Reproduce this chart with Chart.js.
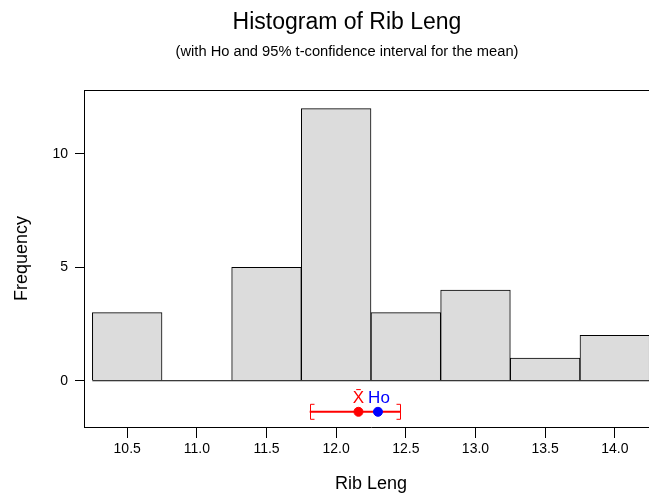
<!DOCTYPE html>
<html>
<head>
<meta charset="utf-8">
<script src="https://cdn.jsdelivr.net/npm/chart.js@4.4.0/dist/chart.umd.min.js"></script>
<style>
html, body { margin: 0; padding: 0; background: #fff; overflow: hidden; }
</style>
</head>
<body>
<canvas id="histChart" width="670" height="495"></canvas>
<script>
// histogram bins (midpoints) and counts
const binMids = [10.5, 11.0, 11.5, 12.0, 12.5, 13.0, 13.5, 14.0];
const binCounts = [3, 0, 5, 12, 3, 4, 1, 2];
const binWidth = 0.5;

const xTicks = [10.5, 11.0, 11.5, 12.0, 12.5, 13.0, 13.5, 14.0];
const yTicks = [0, 5, 10];

// sample mean, Ho and the 95% t-interval
const meanValue = 12.16;
const hoValue = 12.3;
const ciLow = 11.81;
const ciHigh = 12.46;
const intervalRow = -1.37;

const titleText = 'Histogram of Rib Leng';
const subtitleText = '(with Ho and 95% t-confidence interval for the mean)';

const fontFamily = '"Liberation Sans", Arial, sans-serif';
const barFill = '#dcdcdc';
const ciRed = '#ff0000';
const hoBlue = '#0000ff';

const barData = binMids.map((m, i) => ({ x: m, y: binCounts[i] }));
const firstEdge = binMids[0] - binWidth / 2;
const lastEdge = binMids[binMids.length - 1] + binWidth / 2;

// frame top, interval brackets, X-bar / Ho labels and titles
const extras = {
    id: 'extras',
    afterDraw(chart) {
        const ctx = chart.ctx;
        const area = chart.chartArea;
        const xs = chart.scales.x;
        const ys = chart.scales.y;
        ctx.save();
        ctx.strokeStyle = '#000';
        ctx.lineWidth = 1;
        ctx.beginPath();
        ctx.moveTo(area.left, Math.round(area.top) + 0.5);
        ctx.lineTo(area.right, Math.round(area.top) + 0.5);
        ctx.stroke();

        const yc = ys.getPixelForValue(intervalRow);
        ctx.strokeStyle = ciRed;
        [[ciLow, 1], [ciHigh, -1]].forEach(([v, dir]) => {
            const px = Math.round(xs.getPixelForValue(v)) + 0.5;
            ctx.beginPath();
            ctx.moveTo(px + 4 * dir, yc - 7.5);
            ctx.lineTo(px, yc - 7.5);
            ctx.lineTo(px, yc + 7.5);
            ctx.lineTo(px + 4 * dir, yc + 7.5);
            ctx.stroke();
        });

        ctx.font = '17px ' + fontFamily;
        ctx.textAlign = 'center';
        ctx.textBaseline = 'alphabetic';
        ctx.fillStyle = ciRed;
        ctx.fillText('X\u0304', xs.getPixelForValue(meanValue), yc - 9);
        ctx.fillStyle = hoBlue;
        ctx.fillText('Ho', xs.getPixelForValue(hoValue) + 1, yc - 9);

        ctx.fillStyle = '#000';
        ctx.font = '23px ' + fontFamily;
        ctx.fillText(titleText, 347, 29);
        ctx.font = '14.7px ' + fontFamily;
        ctx.fillText(subtitleText, 347, 56);
        ctx.restore();
    }
};

const config = {
    type: 'bar',
    data: {
        datasets: [
            {
                type: 'line',
                data: [{ x: firstEdge, y: 0 }, { x: lastEdge, y: 0 }],
                borderColor: '#000',
                borderWidth: 1,
                pointRadius: 0,
                order: 0
            },
            {
                type: 'line',
                data: [{ x: ciLow, y: intervalRow }, { x: ciHigh, y: intervalRow }],
                borderColor: ciRed,
                borderWidth: 2,
                pointRadius: 0,
                order: 1
            },
            {
                type: 'scatter',
                data: [{ x: meanValue, y: intervalRow }],
                backgroundColor: ciRed,
                borderColor: ciRed,
                pointRadius: 4.5,
                order: 0
            },
            {
                type: 'scatter',
                data: [{ x: hoValue, y: intervalRow }],
                backgroundColor: hoBlue,
                borderColor: hoBlue,
                pointRadius: 4.5,
                order: 0
            },
            {
                label: 'Rib Leng',
                data: barData,
                backgroundColor: barFill,
                borderColor: '#000',
                borderWidth: 1,
                barPercentage: 1,
                categoryPercentage: 1,
                order: 2
            }
        ]
    },
    options: {
        animation: false,
        responsive: false,
        layout: {
            padding: { top: 90, right: 12, left: 0, bottom: 0 }
        },
        plugins: {
            legend: { display: false },
            tooltip: { enabled: false },
            title: { display: false }
        },
        scales: {
            x: {
                type: 'linear',
                offset: false,
                min: 10.19,
                max: 14.31,
                afterBuildTicks: (s) => { s.ticks = xTicks.map(v => ({ value: v })); },
                afterFit: (s) => { s.height = 68; },
                grid: {
                    offset: false,
                    drawOnChartArea: false,
                    drawTicks: true,
                    tickLength: 11,
                    color: '#000'
                },
                border: { display: true, color: '#000', width: 1 },
                ticks: {
                    color: '#000',
                    padding: 3,
                    maxRotation: 0,
                    font: { family: fontFamily, size: 14 },
                    callback: (v) => Number(v).toFixed(1)
                },
                title: {
                    display: true,
                    text: 'Rib Leng',
                    color: '#000',
                    padding: { top: 0, bottom: 0 },
                    font: { family: fontFamily, size: 18 }
                }
            },
            y: {
                min: -2.04,
                max: 12.82,
                afterBuildTicks: (s) => { s.ticks = yTicks.map(v => ({ value: v })); },
                afterFit: (s) => { s.width = 84; },
                grid: {
                    drawOnChartArea: false,
                    drawTicks: true,
                    tickLength: 9,
                    color: '#000'
                },
                border: { display: true, color: '#000', width: 1 },
                ticks: {
                    color: '#000',
                    padding: 7,
                    font: { family: fontFamily, size: 14 }
                },
                title: {
                    display: true,
                    text: 'Frequency',
                    color: '#000',
                    padding: { top: 11, bottom: 0 },
                    font: { family: fontFamily, size: 18 }
                }
            }
        }
    },
    plugins: [extras]
};

new Chart('histChart', config);
</script>
</body>
</html>
